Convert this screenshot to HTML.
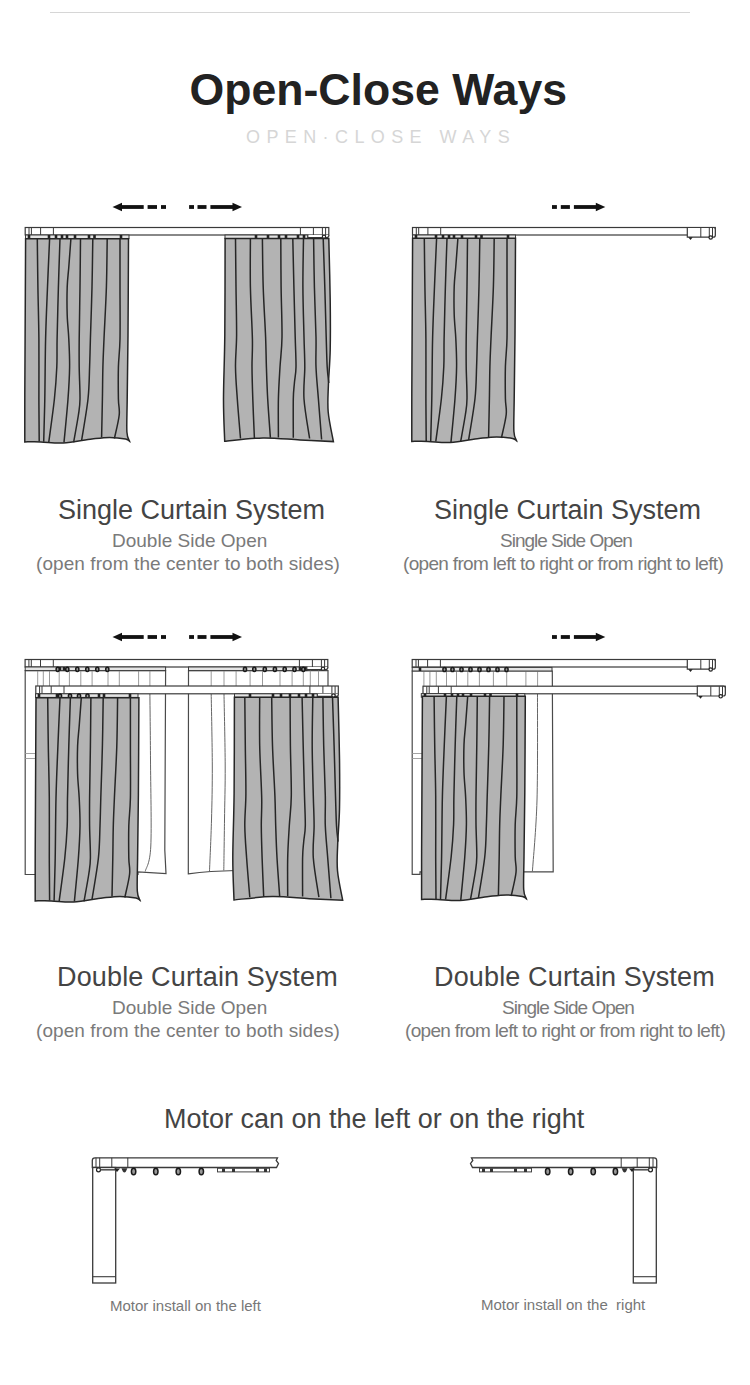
<!DOCTYPE html>
<html><head><meta charset="utf-8">
<style>
html,body{margin:0;padding:0;background:#fff;}
body{width:750px;height:1385px;position:relative;overflow:hidden;font-family:"Liberation Sans",sans-serif;}
.t{position:absolute;white-space:pre;line-height:1;}
#hr{position:absolute;left:50px;top:12px;width:640px;height:1px;background:#d6d6d6;}
#title{left:189.5px;top:67.5px;font-size:44.6px;font-weight:bold;color:#222;}
#sub{left:246px;top:127.5px;font-size:18px;color:#d6d6d6;letter-spacing:6.4px;}
.h{font-size:27px;color:#444;}
.s{font-size:19px;color:#7a7a7a;}
svg{position:absolute;left:0;top:0;}
</style></head><body>
<div id="hr"></div>
<div class="t" id="title">Open-Close Ways</div>
<div class="t" id="sub">OPEN·CLOSE WAYS</div>

<div class="t h" id="h1" style="left:58px;top:496.5px;">Single Curtain System</div>
<div class="t s" id="s1" style="left:112px;top:531px;">Double Side Open</div>
<div class="t s" id="p1" style="left:36px;top:554px;letter-spacing:0.08px;">(open from the center to both sides)</div>

<div class="t h" id="h2" style="left:434px;top:496.5px;">Single Curtain System</div>
<div class="t s" id="s2" style="left:500px;top:531px;letter-spacing:-1px;">Single Side Open</div>
<div class="t s" id="p2" style="left:403px;top:554px;letter-spacing:-0.67px;">(open from left to right or from right to left)</div>

<div class="t h" id="h3" style="left:57px;top:963.5px;letter-spacing:0.15px;">Double Curtain System</div>
<div class="t s" id="s3" style="left:112px;top:998px;">Double Side Open</div>
<div class="t s" id="p3" style="left:36px;top:1021px;letter-spacing:0.08px;">(open from the center to both sides)</div>

<div class="t h" id="h4" style="left:434px;top:963.5px;letter-spacing:0.15px;">Double Curtain System</div>
<div class="t s" id="s4" style="left:502px;top:998px;letter-spacing:-1px;">Single Side Open</div>
<div class="t s" id="p4" style="left:405px;top:1021px;letter-spacing:-0.67px;">(open from left to right or from right to left)</div>

<div class="t h" id="m0" style="left:164px;top:1105.7px;">Motor can on the left or on the right</div>
<div class="t" id="m1" style="left:110px;top:1297.7px;font-size:15px;color:#777;">Motor install on the left</div>
<div class="t" id="m2" style="left:481px;top:1296.7px;font-size:15px;color:#777;">Motor install on the  right</div>

<svg width="750" height="1385" viewBox="0 0 750 1385" id="art"><defs><g id="cL" fill="none" stroke="#262626" stroke-width="1.5"><path d="M25.6 238.7C25.52 255.42 25.23 312.28 25.1 339C24.97 365.72 24.85 381.85 24.8 399C24.75 416.15 24.8 434.75 24.8 441.9C27.47 441.9 34.4 441.72 40.8 441.9C47.2 442.08 54.67 443.48 63.2 443C71.73 442.52 84.27 439.93 92 439C99.73 438.07 104 437.4 109.6 437.4C115.2 437.4 122.27 438.33 125.6 439C128.93 439.67 128.93 441 129.6 441.4C129.15 439.83 127.3 439.07 126.9 432C126.5 424.93 127.02 415.17 127.2 399C127.38 382.83 127.78 361.72 128 335C128.22 308.28 128.42 254.75 128.5 238.7Z" fill="#b3b3b3" stroke="#262626" stroke-width="1.5"/><path d="M37.3 238.7C37.4 246.75 37.63 270.28 37.9 287C38.17 303.72 38.73 320.33 38.9 339C39.07 357.67 38.85 381.92 38.9 399C38.95 416.08 39.15 434.42 39.2 441.5"/><path d="M49.6 238.7C49.25 246.75 48.17 270.28 47.5 287C46.83 303.72 46.05 320.33 45.6 339C45.15 357.67 45.12 381.87 44.8 399C44.48 416.13 43.88 434.67 43.7 441.8"/><path d="M60 238.7C59.73 246.75 58.88 270.28 58.4 287C57.92 303.72 57.37 325.67 57.1 339C56.83 352.33 57.25 357 56.8 367C56.35 377 55.73 386.5 54.4 399C53.07 411.5 49.73 434.83 48.8 442"/><path d="M70.9 238.7C70.55 243.42 69.42 258.95 68.8 267C68.18 275.05 67.47 279 67.2 287C66.93 295 66.93 306.33 67.2 315C67.47 323.67 68.4 330.33 68.8 339C69.2 347.67 69.73 357 69.6 367C69.47 377 68.93 386.42 68 399C67.07 411.58 64.67 435.25 64 442.5"/><path d="M80.5 238.7C80.42 246.75 80.22 270.28 80 287C79.78 303.72 79.33 325.67 79.2 339C79.07 352.33 79.07 357 79.2 367C79.33 377 80.13 391 80 399C79.87 407 79.47 407.78 78.4 415C77.33 422.22 74.4 437.75 73.6 442.3"/><path d="M92.8 238.7C92.67 246.75 92.4 270.28 92 287C91.6 303.72 90.8 325.67 90.4 339C90 352.33 90 357 89.6 367C89.2 377 89.33 386.75 88 399C86.67 411.25 82.67 433.58 81.6 440.5"/><path d="M107.2 238.7C107.07 246.75 106.93 270.28 106.4 287C105.87 303.72 104.58 325.67 104 339C103.42 352.33 103.17 357 102.9 367C102.63 377 102.62 387.23 102.4 399C102.18 410.77 101.73 431.17 101.6 437.6"/><path d="M120 238.7C120 246.75 120 270.28 120 287C120 303.72 120.27 325.67 120 339C119.73 352.33 118.67 357 118.4 367C118.13 377 118.27 391 118.4 399C118.53 407 119.87 408.42 119.2 415C118.53 421.58 115.2 434.58 114.4 438.5"/></g><g id="cR" fill="none" stroke="#262626" stroke-width="1.5"><path d="M225.1 238.5C225.05 254.58 225.07 308.25 224.8 335C224.53 361.75 223.52 381.3 223.5 399C223.48 416.7 224.5 434.17 224.7 441.2C231.08 440.65 250.45 438.1 263 437.9C275.55 437.7 288.27 439.38 300 440C311.73 440.62 327.83 441.33 333.4 441.6C332.53 436.67 329.03 421.43 328.2 412C327.37 402.57 328.07 395.33 328.4 385C328.73 374.67 329.9 364.17 330.2 350C330.5 335.83 330.43 318.58 330.2 300C329.97 281.42 329.03 248.75 328.8 238.5Z" fill="#b3b3b3" stroke="#262626" stroke-width="1.5"/><path d="M235.5 238.5C235.58 246.58 235.82 270.92 236 287C236.18 303.08 236.68 321.67 236.6 335C236.52 348.33 235.38 356.33 235.5 367C235.62 377.67 236.47 387.08 237.3 399C238.13 410.92 239.97 431.92 240.5 438.5"/><path d="M250.4 238.5C250.4 246.58 250.07 270.25 250.4 287C250.73 303.75 252.13 325.67 252.4 339C252.67 352.33 251.93 357 252 367C252.07 377 252.4 387.13 252.8 399C253.2 410.87 254.13 431.67 254.4 438.2"/><path d="M262.4 238.5C262.53 246.58 262.67 270.58 263.2 287C263.73 303.42 265.07 323.67 265.6 337C266.13 350.33 266.05 356.67 266.4 367C266.75 377.33 267.03 387.2 267.7 399C268.37 410.8 269.95 431.33 270.4 437.8"/><path d="M280.8 238.5C280.85 246.58 280.9 270.58 281.1 287C281.3 303.42 282.18 323.67 282 337C281.82 350.33 280.6 356.67 280 367C279.4 377.33 278.67 387.23 278.4 399C278.13 410.77 278.4 431.17 278.4 437.6"/><path d="M292.8 238.5C292.98 246.58 293.5 270.58 293.9 287C294.3 303.42 294.85 323.67 295.2 337C295.55 350.33 296.13 359.33 296 367C295.87 374.67 294.85 377.67 294.4 383C293.95 388.33 293.48 389.87 293.3 399C293.12 408.13 293.3 431.33 293.3 437.8"/><path d="M303.5 238.5C303.4 246.58 302.82 270.58 302.9 287C302.98 303.42 303.68 323.67 304 337C304.32 350.33 304.8 356.67 304.8 367C304.8 377.33 303.2 387.08 304 399C304.8 410.92 308.67 431.92 309.6 438.5"/><path d="M313.6 238.5C313.73 246.58 314 270.58 314.4 287C314.8 303.42 315.73 323.67 316 337C316.27 350.33 315.6 356.67 316 367C316.4 377.33 317.47 386.92 318.4 399C319.33 411.08 321.07 432.75 321.6 439.5"/><path d="M323.2 238.5C323.47 246.58 324.3 270.58 324.8 287C325.3 303.42 325.8 323.67 326.2 337C326.6 350.33 326.77 359.33 327.2 367C327.63 374.67 328.53 380.33 328.8 383"/></g></defs><path d="M112.5 207L122 202.8L122 211.2Z" fill="#111"/><rect x="121" y="205.1" width="22.7" height="3.8" fill="#111"/><rect x="147.6" y="205.1" width="9.4" height="3.8" fill="#111"/><rect x="161" y="205.1" width="5" height="3.8" fill="#111"/><path d="M242 207L232.5 202.8L232.5 211.2Z" fill="#111"/><rect x="210.4" y="205.1" width="23.1" height="3.8" fill="#111"/><rect x="189.1" y="205.1" width="4.9" height="3.8" fill="#111"/><rect x="197.5" y="205.1" width="9" height="3.8" fill="#111"/><rect x="25.2" y="227.5" width="303.6" height="7.5" fill="#fff" stroke="#3a3a3a" stroke-width="1.2"/><line x1="29" y1="227.5" x2="29" y2="235" stroke="#3a3a3a" stroke-width="1"/><line x1="31.4" y1="227.5" x2="31.4" y2="235" stroke="#3a3a3a" stroke-width="1"/><line x1="40.6" y1="227.5" x2="40.6" y2="235" stroke="#3a3a3a" stroke-width="1"/><line x1="53.4" y1="227.5" x2="53.4" y2="235" stroke="#3a3a3a" stroke-width="1"/><line x1="300.4" y1="227.5" x2="300.4" y2="235" stroke="#3a3a3a" stroke-width="1"/><line x1="313.4" y1="227.5" x2="313.4" y2="235" stroke="#3a3a3a" stroke-width="1"/><line x1="322.4" y1="227.5" x2="322.4" y2="235" stroke="#3a3a3a" stroke-width="1"/><line x1="325.6" y1="227.5" x2="325.6" y2="235" stroke="#3a3a3a" stroke-width="1"/><rect x="25.5" y="235" width="103.5" height="3.6" fill="#e4e4e4" stroke="#3a3a3a" stroke-width="1"/><rect x="27.7" y="235" width="2.6" height="3.6" fill="#222"/><rect x="47.7" y="235" width="2.6" height="3.6" fill="#222"/><rect x="54.7" y="235" width="2.6" height="3.6" fill="#222"/><rect x="60.7" y="235" width="2.6" height="3.6" fill="#222"/><rect x="65.7" y="235" width="2.6" height="3.6" fill="#222"/><rect x="73.7" y="235" width="2.6" height="3.6" fill="#222"/><rect x="87.7" y="235" width="2.6" height="3.6" fill="#222"/><rect x="93.2" y="235" width="2.6" height="3.6" fill="#222"/><rect x="119.7" y="235" width="2.6" height="3.6" fill="#222"/><rect x="225" y="235" width="83" height="3.6" fill="#e4e4e4" stroke="#3a3a3a" stroke-width="1"/><rect x="254.7" y="235" width="2.6" height="3.6" fill="#222"/><rect x="266.7" y="235" width="2.6" height="3.6" fill="#222"/><rect x="277.7" y="235" width="2.6" height="3.6" fill="#222"/><rect x="284.7" y="235" width="2.6" height="3.6" fill="#222"/><rect x="296.7" y="235" width="2.6" height="3.6" fill="#222"/><rect x="302.7" y="235" width="2.6" height="3.6" fill="#222"/><path d="M307.8 235V237.6H326.8Q328.8 237.6 328.8 235.6V235" fill="#fff" stroke="#3a3a3a" stroke-width="1.2"/><line x1="322.4" y1="235" x2="322.4" y2="237.6" stroke="#3a3a3a" stroke-width="1"/><line x1="325.6" y1="235" x2="325.6" y2="237.6" stroke="#3a3a3a" stroke-width="1"/><circle cx="324" cy="236.8" r="1.6" fill="#fff" stroke="#222" stroke-width="1.1"/><use href="#cL" transform="translate(0 0)"/><use href="#cR" transform="translate(0 0)"/><path d="M605.3 207L595.8 202.8L595.8 211.2Z" fill="#111"/><rect x="573.9" y="205.1" width="22.9" height="3.8" fill="#111"/><rect x="552" y="205.1" width="4.9" height="3.8" fill="#111"/><rect x="560.8" y="205.1" width="9.1" height="3.8" fill="#111"/><rect x="412.5" y="227.5" width="302.8" height="7.5" fill="#fff" stroke="#3a3a3a" stroke-width="1.2"/><line x1="416.3" y1="227.5" x2="416.3" y2="235" stroke="#3a3a3a" stroke-width="1"/><line x1="418.7" y1="227.5" x2="418.7" y2="235" stroke="#3a3a3a" stroke-width="1"/><line x1="427.9" y1="227.5" x2="427.9" y2="235" stroke="#3a3a3a" stroke-width="1"/><line x1="440.7" y1="227.5" x2="440.7" y2="235" stroke="#3a3a3a" stroke-width="1"/><path d="M687.3 227.5V237.2H713.3Q715.3 237.2 715.3 235.2V229.5Q715.3 227.5 713.3 227.5Z" fill="#fff" stroke="#3a3a3a" stroke-width="1.2"/><line x1="700.8" y1="227.5" x2="700.8" y2="237.2" stroke="#3a3a3a" stroke-width="1"/><line x1="709.3" y1="227.5" x2="709.3" y2="237.2" stroke="#3a3a3a" stroke-width="1"/><line x1="712.5" y1="227.5" x2="712.5" y2="237.2" stroke="#3a3a3a" stroke-width="1"/><path d="M688.3 237.2l2.2 2.8l2.2 -2.8z" fill="#222"/><circle cx="710.7" cy="237.5" r="1.7" fill="#fff" stroke="#222" stroke-width="1.2"/><rect x="412.5" y="235" width="103" height="3.6" fill="#e4e4e4" stroke="#3a3a3a" stroke-width="1"/><rect x="414.7" y="235" width="2.6" height="3.6" fill="#222"/><rect x="434.7" y="235" width="2.6" height="3.6" fill="#222"/><rect x="441.7" y="235" width="2.6" height="3.6" fill="#222"/><rect x="447.7" y="235" width="2.6" height="3.6" fill="#222"/><rect x="452.7" y="235" width="2.6" height="3.6" fill="#222"/><rect x="460.7" y="235" width="2.6" height="3.6" fill="#222"/><rect x="474.7" y="235" width="2.6" height="3.6" fill="#222"/><rect x="480.2" y="235" width="2.6" height="3.6" fill="#222"/><rect x="506.7" y="235" width="2.6" height="3.6" fill="#222"/><use href="#cL" transform="translate(387 -0.5)"/><path d="M112.5 637L122 632.8L122 641.2Z" fill="#111"/><rect x="121" y="635.1" width="22.7" height="3.8" fill="#111"/><rect x="147.6" y="635.1" width="9.4" height="3.8" fill="#111"/><rect x="161" y="635.1" width="5" height="3.8" fill="#111"/><path d="M242 637L232.5 632.8L232.5 641.2Z" fill="#111"/><rect x="210.4" y="635.1" width="23.1" height="3.8" fill="#111"/><rect x="189.1" y="635.1" width="4.9" height="3.8" fill="#111"/><rect x="197.5" y="635.1" width="9" height="3.8" fill="#111"/><rect x="25.1" y="659.5" width="302.7" height="7.5" fill="#fff" stroke="#3a3a3a" stroke-width="1.2"/><line x1="28.9" y1="659.5" x2="28.9" y2="667" stroke="#3a3a3a" stroke-width="1"/><line x1="31.3" y1="659.5" x2="31.3" y2="667" stroke="#3a3a3a" stroke-width="1"/><line x1="40.5" y1="659.5" x2="40.5" y2="667" stroke="#3a3a3a" stroke-width="1"/><line x1="53.3" y1="659.5" x2="53.3" y2="667" stroke="#3a3a3a" stroke-width="1"/><line x1="299.4" y1="659.5" x2="299.4" y2="667" stroke="#3a3a3a" stroke-width="1"/><line x1="312.4" y1="659.5" x2="312.4" y2="667" stroke="#3a3a3a" stroke-width="1"/><line x1="321.4" y1="659.5" x2="321.4" y2="667" stroke="#3a3a3a" stroke-width="1"/><line x1="324.6" y1="659.5" x2="324.6" y2="667" stroke="#3a3a3a" stroke-width="1"/><path d="M25.2 670.6L25.2 874.5L138 874.5L138 872L166 873.6L164.8 850L165.6 670.6Z" fill="#fff" stroke="#4a4a4a" stroke-width="1.2"/><line x1="37.7" y1="670.6" x2="37.7" y2="688.6" stroke="#9a9a9a" stroke-width="1"/><line x1="43.3" y1="670.6" x2="43.3" y2="688.6" stroke="#9a9a9a" stroke-width="1"/><line x1="49.5" y1="670.6" x2="49.5" y2="688.6" stroke="#9a9a9a" stroke-width="1"/><line x1="59.2" y1="670.6" x2="59.2" y2="688.6" stroke="#9a9a9a" stroke-width="1"/><line x1="69.4" y1="670.6" x2="69.4" y2="688.6" stroke="#9a9a9a" stroke-width="1"/><line x1="80.8" y1="670.6" x2="80.8" y2="688.6" stroke="#9a9a9a" stroke-width="1"/><line x1="92.1" y1="670.6" x2="92.1" y2="688.6" stroke="#9a9a9a" stroke-width="1"/><line x1="108" y1="670.6" x2="108" y2="688.6" stroke="#9a9a9a" stroke-width="1"/><line x1="119.3" y1="670.6" x2="119.3" y2="688.6" stroke="#9a9a9a" stroke-width="1"/><line x1="138.6" y1="670.6" x2="138.6" y2="688.6" stroke="#9a9a9a" stroke-width="1"/><line x1="149.9" y1="670.6" x2="149.9" y2="688.6" stroke="#9a9a9a" stroke-width="1"/><path d="M149.9 694C150 705 150.35 734.67 150.5 760C150.65 785.33 151.68 827.42 150.8 846C149.92 864.58 146.13 867.25 145.2 871.5" fill="none" stroke="#666" stroke-width="1"/><path d="M25.2 753.5h10M25.2 758.5h10" stroke="#999" stroke-width="0.9"/><path d="M188.5 670.6L188.3 873.8Q210 871 236 870.5L328 870.5L328 670.6Z" fill="#fff" stroke="#4a4a4a" stroke-width="1.2"/><line x1="211.2" y1="670.6" x2="211.2" y2="688.6" stroke="#9a9a9a" stroke-width="1"/><line x1="224" y1="670.6" x2="224" y2="688.6" stroke="#9a9a9a" stroke-width="1"/><line x1="236.1" y1="670.6" x2="236.1" y2="688.6" stroke="#9a9a9a" stroke-width="1"/><line x1="250.1" y1="670.6" x2="250.1" y2="688.6" stroke="#9a9a9a" stroke-width="1"/><line x1="262.5" y1="670.6" x2="262.5" y2="688.6" stroke="#9a9a9a" stroke-width="1"/><line x1="280" y1="670.6" x2="280" y2="688.6" stroke="#9a9a9a" stroke-width="1"/><line x1="292.1" y1="670.6" x2="292.1" y2="688.6" stroke="#9a9a9a" stroke-width="1"/><line x1="303.3" y1="670.6" x2="303.3" y2="688.6" stroke="#9a9a9a" stroke-width="1"/><line x1="310.3" y1="670.6" x2="310.3" y2="688.6" stroke="#9a9a9a" stroke-width="1"/><line x1="318.5" y1="670.6" x2="318.5" y2="688.6" stroke="#9a9a9a" stroke-width="1"/><path d="M211.2 694C211.38 706 212.25 745 212.3 766C212.35 787 211.97 802.5 211.5 820C211.03 837.5 209.83 862.5 209.5 871" fill="none" stroke="#666" stroke-width="1"/><path d="M224 694C224.2 706 225.12 745 225.2 766C225.28 787 224.73 802.58 224.5 820C224.27 837.42 223.92 862.08 223.8 870.5" fill="none" stroke="#666" stroke-width="1"/><rect x="25.2" y="667" width="140.4" height="3.6" fill="#e4e4e4" stroke="#3a3a3a" stroke-width="1"/><rect x="58.7" y="667" width="2.6" height="3.6" fill="#222"/><rect x="62.7" y="667" width="2.6" height="3.6" fill="#222"/><ellipse cx="57.7" cy="669.3" rx="1.6" ry="2.1" fill="#999" stroke="#1a1a1a" stroke-width="1.5"/><ellipse cx="67.3" cy="669.3" rx="1.6" ry="2.1" fill="#999" stroke="#1a1a1a" stroke-width="1.5"/><ellipse cx="77.3" cy="669.3" rx="1.6" ry="2.1" fill="#999" stroke="#1a1a1a" stroke-width="1.5"/><ellipse cx="87.3" cy="669.3" rx="1.6" ry="2.1" fill="#999" stroke="#1a1a1a" stroke-width="1.5"/><ellipse cx="97.3" cy="669.3" rx="1.6" ry="2.1" fill="#999" stroke="#1a1a1a" stroke-width="1.5"/><ellipse cx="107.3" cy="669.3" rx="1.6" ry="2.1" fill="#999" stroke="#1a1a1a" stroke-width="1.5"/><rect x="188.5" y="667" width="118.5" height="3.6" fill="#e4e4e4" stroke="#3a3a3a" stroke-width="1"/><rect x="298.7" y="667" width="2.6" height="3.6" fill="#222"/><rect x="304.7" y="667" width="2.6" height="3.6" fill="#222"/><path d="M306.8 667V669.6H325.8Q327.8 669.6 327.8 667.6V667" fill="#fff" stroke="#3a3a3a" stroke-width="1.2"/><line x1="321.4" y1="667" x2="321.4" y2="669.6" stroke="#3a3a3a" stroke-width="1"/><line x1="324.6" y1="667" x2="324.6" y2="669.6" stroke="#3a3a3a" stroke-width="1"/><circle cx="323" cy="668.8" r="1.6" fill="#fff" stroke="#222" stroke-width="1.1"/><ellipse cx="245" cy="669.3" rx="1.6" ry="2.1" fill="#999" stroke="#1a1a1a" stroke-width="1.5"/><ellipse cx="254.3" cy="669.3" rx="1.6" ry="2.1" fill="#999" stroke="#1a1a1a" stroke-width="1.5"/><ellipse cx="264.8" cy="669.3" rx="1.6" ry="2.1" fill="#999" stroke="#1a1a1a" stroke-width="1.5"/><ellipse cx="274.9" cy="669.3" rx="1.6" ry="2.1" fill="#999" stroke="#1a1a1a" stroke-width="1.5"/><ellipse cx="284.7" cy="669.3" rx="1.6" ry="2.1" fill="#999" stroke="#1a1a1a" stroke-width="1.5"/><ellipse cx="294.5" cy="669.3" rx="1.6" ry="2.1" fill="#999" stroke="#1a1a1a" stroke-width="1.5"/><ellipse cx="303.3" cy="669.3" rx="1.6" ry="2.1" fill="#999" stroke="#1a1a1a" stroke-width="1.5"/><rect x="35.8" y="686" width="302.5" height="7.8" fill="#fff" stroke="#3a3a3a" stroke-width="1.2"/><line x1="39.6" y1="686" x2="39.6" y2="693.8" stroke="#3a3a3a" stroke-width="1"/><line x1="42" y1="686" x2="42" y2="693.8" stroke="#3a3a3a" stroke-width="1"/><line x1="51.2" y1="686" x2="51.2" y2="693.8" stroke="#3a3a3a" stroke-width="1"/><line x1="64" y1="686" x2="64" y2="693.8" stroke="#3a3a3a" stroke-width="1"/><line x1="309.9" y1="686" x2="309.9" y2="693.8" stroke="#3a3a3a" stroke-width="1"/><line x1="322.9" y1="686" x2="322.9" y2="693.8" stroke="#3a3a3a" stroke-width="1"/><line x1="331.9" y1="686" x2="331.9" y2="693.8" stroke="#3a3a3a" stroke-width="1"/><line x1="335.1" y1="686" x2="335.1" y2="693.8" stroke="#3a3a3a" stroke-width="1"/><rect x="35.5" y="693.8" width="102.5" height="3.6" fill="#e4e4e4" stroke="#3a3a3a" stroke-width="1"/><rect x="37.7" y="693.8" width="2.6" height="3.6" fill="#222"/><rect x="55.7" y="693.8" width="2.6" height="3.6" fill="#222"/><rect x="97.7" y="693.8" width="2.6" height="3.6" fill="#222"/><rect x="102.7" y="693.8" width="2.6" height="3.6" fill="#222"/><rect x="128.7" y="693.8" width="2.6" height="3.6" fill="#222"/><ellipse cx="60" cy="696" rx="1.6" ry="2" fill="#999" stroke="#1a1a1a" stroke-width="1.5"/><ellipse cx="70" cy="696" rx="1.6" ry="2" fill="#999" stroke="#1a1a1a" stroke-width="1.5"/><ellipse cx="79" cy="696" rx="1.6" ry="2" fill="#999" stroke="#1a1a1a" stroke-width="1.5"/><ellipse cx="87.5" cy="696" rx="1.6" ry="2" fill="#999" stroke="#1a1a1a" stroke-width="1.5"/><rect x="234.5" y="693.8" width="83.5" height="3.6" fill="#e4e4e4" stroke="#3a3a3a" stroke-width="1"/><rect x="248.7" y="693.8" width="2.6" height="3.6" fill="#222"/><rect x="271.7" y="693.8" width="2.6" height="3.6" fill="#222"/><rect x="279.7" y="693.8" width="2.6" height="3.6" fill="#222"/><rect x="288.7" y="693.8" width="2.6" height="3.6" fill="#222"/><rect x="297.7" y="693.8" width="2.6" height="3.6" fill="#222"/><rect x="304.7" y="693.8" width="2.6" height="3.6" fill="#222"/><rect x="311.7" y="693.8" width="2.6" height="3.6" fill="#222"/><path d="M317.3 693.8V696.4H336.3Q338.3 696.4 338.3 694.4V693.8" fill="#fff" stroke="#3a3a3a" stroke-width="1.2"/><line x1="331.9" y1="693.8" x2="331.9" y2="696.4" stroke="#3a3a3a" stroke-width="1"/><line x1="335.1" y1="693.8" x2="335.1" y2="696.4" stroke="#3a3a3a" stroke-width="1"/><circle cx="333.5" cy="695.6" r="1.6" fill="#fff" stroke="#222" stroke-width="1.1"/><use href="#cL" transform="translate(10.4 459)"/><use href="#cR" transform="translate(9.3 458.7)"/><path d="M605.3 637L595.8 632.8L595.8 641.2Z" fill="#111"/><rect x="573.9" y="635.1" width="22.9" height="3.8" fill="#111"/><rect x="552" y="635.1" width="4.9" height="3.8" fill="#111"/><rect x="560.8" y="635.1" width="9.1" height="3.8" fill="#111"/><rect x="412.2" y="659.5" width="303.1" height="7.5" fill="#fff" stroke="#3a3a3a" stroke-width="1.2"/><line x1="416" y1="659.5" x2="416" y2="667" stroke="#3a3a3a" stroke-width="1"/><line x1="418.4" y1="659.5" x2="418.4" y2="667" stroke="#3a3a3a" stroke-width="1"/><line x1="427.6" y1="659.5" x2="427.6" y2="667" stroke="#3a3a3a" stroke-width="1"/><line x1="440.4" y1="659.5" x2="440.4" y2="667" stroke="#3a3a3a" stroke-width="1"/><path d="M687.3 659.5V669.2H713.3Q715.3 669.2 715.3 667.2V661.5Q715.3 659.5 713.3 659.5Z" fill="#fff" stroke="#3a3a3a" stroke-width="1.2"/><line x1="700.8" y1="659.5" x2="700.8" y2="669.2" stroke="#3a3a3a" stroke-width="1"/><line x1="709.3" y1="659.5" x2="709.3" y2="669.2" stroke="#3a3a3a" stroke-width="1"/><line x1="712.5" y1="659.5" x2="712.5" y2="669.2" stroke="#3a3a3a" stroke-width="1"/><path d="M688.3 669.2l2.2 2.8l2.2 -2.8z" fill="#222"/><circle cx="710.7" cy="669.5" r="1.7" fill="#fff" stroke="#222" stroke-width="1.2"/><path d="M412.2 671L412.2 874.3L420 874.3L420 871.8L553.2 871.8L552.3 671Z" fill="#fff" stroke="#4a4a4a" stroke-width="1.2"/><line x1="423.9" y1="671" x2="423.9" y2="689" stroke="#9a9a9a" stroke-width="1"/><line x1="429.9" y1="671" x2="429.9" y2="689" stroke="#9a9a9a" stroke-width="1"/><line x1="436.3" y1="671" x2="436.3" y2="689" stroke="#9a9a9a" stroke-width="1"/><line x1="446.5" y1="671" x2="446.5" y2="689" stroke="#9a9a9a" stroke-width="1"/><line x1="456.5" y1="671" x2="456.5" y2="689" stroke="#9a9a9a" stroke-width="1"/><line x1="467.8" y1="671" x2="467.8" y2="689" stroke="#9a9a9a" stroke-width="1"/><line x1="479.4" y1="671" x2="479.4" y2="689" stroke="#9a9a9a" stroke-width="1"/><line x1="493.4" y1="671" x2="493.4" y2="689" stroke="#9a9a9a" stroke-width="1"/><line x1="506.7" y1="671" x2="506.7" y2="689" stroke="#9a9a9a" stroke-width="1"/><line x1="525.9" y1="671" x2="525.9" y2="689" stroke="#9a9a9a" stroke-width="1"/><line x1="537.6" y1="671" x2="537.6" y2="689" stroke="#9a9a9a" stroke-width="1"/><path d="M537.5 694C537.42 711.67 537.85 770.42 537 800C536.15 829.58 533.17 859.58 532.4 871.5" fill="none" stroke="#666" stroke-width="1"/><path d="M412.2 753.5h10M412.2 758.5h10" stroke="#999" stroke-width="0.9"/><rect x="412.2" y="667.4" width="139.8" height="3.6" fill="#e4e4e4" stroke="#3a3a3a" stroke-width="1"/><rect x="418.7" y="667.4" width="2.6" height="3.6" fill="#222"/><rect x="443.7" y="667.4" width="2.6" height="3.6" fill="#222"/><ellipse cx="444.5" cy="669.5" rx="1.6" ry="2.1" fill="#999" stroke="#1a1a1a" stroke-width="1.5"/><ellipse cx="452.5" cy="669.5" rx="1.6" ry="2.1" fill="#999" stroke="#1a1a1a" stroke-width="1.5"/><ellipse cx="461.5" cy="669.5" rx="1.6" ry="2.1" fill="#999" stroke="#1a1a1a" stroke-width="1.5"/><ellipse cx="470.5" cy="669.5" rx="1.6" ry="2.1" fill="#999" stroke="#1a1a1a" stroke-width="1.5"/><ellipse cx="479.5" cy="669.5" rx="1.6" ry="2.1" fill="#999" stroke="#1a1a1a" stroke-width="1.5"/><ellipse cx="488.5" cy="669.5" rx="1.6" ry="2.1" fill="#999" stroke="#1a1a1a" stroke-width="1.5"/><ellipse cx="497.5" cy="669.5" rx="1.6" ry="2.1" fill="#999" stroke="#1a1a1a" stroke-width="1.5"/><ellipse cx="506.5" cy="669.5" rx="1.6" ry="2.1" fill="#999" stroke="#1a1a1a" stroke-width="1.5"/><rect x="423" y="686.2" width="302.3" height="7.6" fill="#fff" stroke="#3a3a3a" stroke-width="1.2"/><line x1="426.8" y1="686.2" x2="426.8" y2="693.8" stroke="#3a3a3a" stroke-width="1"/><line x1="429.2" y1="686.2" x2="429.2" y2="693.8" stroke="#3a3a3a" stroke-width="1"/><line x1="438.4" y1="686.2" x2="438.4" y2="693.8" stroke="#3a3a3a" stroke-width="1"/><line x1="451.2" y1="686.2" x2="451.2" y2="693.8" stroke="#3a3a3a" stroke-width="1"/><path d="M697.3 686.2V696H723.3Q725.3 696 725.3 694V688.2Q725.3 686.2 723.3 686.2Z" fill="#fff" stroke="#3a3a3a" stroke-width="1.2"/><line x1="710.8" y1="686.2" x2="710.8" y2="696" stroke="#3a3a3a" stroke-width="1"/><line x1="719.3" y1="686.2" x2="719.3" y2="696" stroke="#3a3a3a" stroke-width="1"/><line x1="722.5" y1="686.2" x2="722.5" y2="696" stroke="#3a3a3a" stroke-width="1"/><path d="M698.3 696l2.2 2.8l2.2 -2.8z" fill="#222"/><circle cx="720.7" cy="696.3" r="1.7" fill="#fff" stroke="#222" stroke-width="1.2"/><rect x="421.3" y="693.6" width="103.5" height="3.6" fill="#e4e4e4" stroke="#3a3a3a" stroke-width="1"/><rect x="423.7" y="693.6" width="2.6" height="3.6" fill="#222"/><rect x="443.7" y="693.6" width="2.6" height="3.6" fill="#222"/><rect x="450.7" y="693.6" width="2.6" height="3.6" fill="#222"/><rect x="456.7" y="693.6" width="2.6" height="3.6" fill="#222"/><rect x="461.7" y="693.6" width="2.6" height="3.6" fill="#222"/><rect x="469.7" y="693.6" width="2.6" height="3.6" fill="#222"/><rect x="483.7" y="693.6" width="2.6" height="3.6" fill="#222"/><rect x="489.2" y="693.6" width="2.6" height="3.6" fill="#222"/><rect x="515.7" y="693.6" width="2.6" height="3.6" fill="#222"/><use href="#cL" transform="translate(396.8 457.5)"/><path d="M92.3 1167.5V1160.5Q92.3 1157.8 95 1157.8H277.5L276.2 1160.5L278.5 1163.5L276.5 1167.5Z" fill="#fff" stroke="#3a3a3a" stroke-width="1.3"/><line x1="96" y1="1157.8" x2="96" y2="1167.5" stroke="#3a3a3a" stroke-width="1"/><line x1="99.7" y1="1157.8" x2="99.7" y2="1167.5" stroke="#3a3a3a" stroke-width="1"/><line x1="111.8" y1="1157.8" x2="111.8" y2="1167.5" stroke="#3a3a3a" stroke-width="1"/><line x1="127.8" y1="1157.8" x2="127.8" y2="1167.5" stroke="#3a3a3a" stroke-width="1"/><rect x="92.7" y="1167.5" width="23" height="115.5" fill="#fff" stroke="#3a3a3a" stroke-width="1.3"/><line x1="92.7" y1="1276.7" x2="115.7" y2="1276.7" stroke="#3a3a3a" stroke-width="1.1"/><circle cx="98.5" cy="1169.8" r="2" fill="#fff" stroke="#222" stroke-width="1.2"/><path d="M100.5 1169.8H118" stroke="#555" stroke-width="1.6"/><path d="M114 1168.5L120 1168.5L117 1172Z" fill="#222"/><path d="M121.5 1168.3L127.3 1168.3Q126 1172.5 124.4 1172.5Q122.8 1172.5 121.5 1168.3Z" fill="#333"/><ellipse cx="133.6" cy="1171.5" rx="2.2" ry="3.3" fill="#999" stroke="#1a1a1a" stroke-width="1.5"/><ellipse cx="155.8" cy="1171.5" rx="2.2" ry="3.3" fill="#999" stroke="#1a1a1a" stroke-width="1.5"/><ellipse cx="178.3" cy="1171.5" rx="2.2" ry="3.3" fill="#999" stroke="#1a1a1a" stroke-width="1.5"/><ellipse cx="201.3" cy="1171.5" rx="2.2" ry="3.3" fill="#999" stroke="#1a1a1a" stroke-width="1.5"/><rect x="217.5" y="1168.3" width="52" height="3.6" fill="#fff" stroke="#444" stroke-width="1"/><path d="M222 1168.5h3v3.5h-3zM232 1168.5h3v3.5h-3zM256 1168.5h3v3.5h-3zM264 1168.5h3v3.5h-3z" fill="#333"/><g transform="translate(749 0) scale(-1 1)"><path d="M92.3 1167.5V1160.5Q92.3 1157.8 95 1157.8H277.5L276.2 1160.5L278.5 1163.5L276.5 1167.5Z" fill="#fff" stroke="#3a3a3a" stroke-width="1.3"/><line x1="96" y1="1157.8" x2="96" y2="1167.5" stroke="#3a3a3a" stroke-width="1"/><line x1="99.7" y1="1157.8" x2="99.7" y2="1167.5" stroke="#3a3a3a" stroke-width="1"/><line x1="111.8" y1="1157.8" x2="111.8" y2="1167.5" stroke="#3a3a3a" stroke-width="1"/><line x1="127.8" y1="1157.8" x2="127.8" y2="1167.5" stroke="#3a3a3a" stroke-width="1"/><rect x="92.7" y="1167.5" width="23" height="115.5" fill="#fff" stroke="#3a3a3a" stroke-width="1.3"/><line x1="92.7" y1="1276.7" x2="115.7" y2="1276.7" stroke="#3a3a3a" stroke-width="1.1"/><circle cx="98.5" cy="1169.8" r="2" fill="#fff" stroke="#222" stroke-width="1.2"/><path d="M100.5 1169.8H118" stroke="#555" stroke-width="1.6"/><path d="M114 1168.5L120 1168.5L117 1172Z" fill="#222"/><path d="M121.5 1168.3L127.3 1168.3Q126 1172.5 124.4 1172.5Q122.8 1172.5 121.5 1168.3Z" fill="#333"/><ellipse cx="133.6" cy="1171.5" rx="2.2" ry="3.3" fill="#999" stroke="#1a1a1a" stroke-width="1.5"/><ellipse cx="155.8" cy="1171.5" rx="2.2" ry="3.3" fill="#999" stroke="#1a1a1a" stroke-width="1.5"/><ellipse cx="178.3" cy="1171.5" rx="2.2" ry="3.3" fill="#999" stroke="#1a1a1a" stroke-width="1.5"/><ellipse cx="201.3" cy="1171.5" rx="2.2" ry="3.3" fill="#999" stroke="#1a1a1a" stroke-width="1.5"/><rect x="217.5" y="1168.3" width="52" height="3.6" fill="#fff" stroke="#444" stroke-width="1"/><path d="M222 1168.5h3v3.5h-3zM232 1168.5h3v3.5h-3zM256 1168.5h3v3.5h-3zM264 1168.5h3v3.5h-3z" fill="#333"/></g></svg>
</body></html>
